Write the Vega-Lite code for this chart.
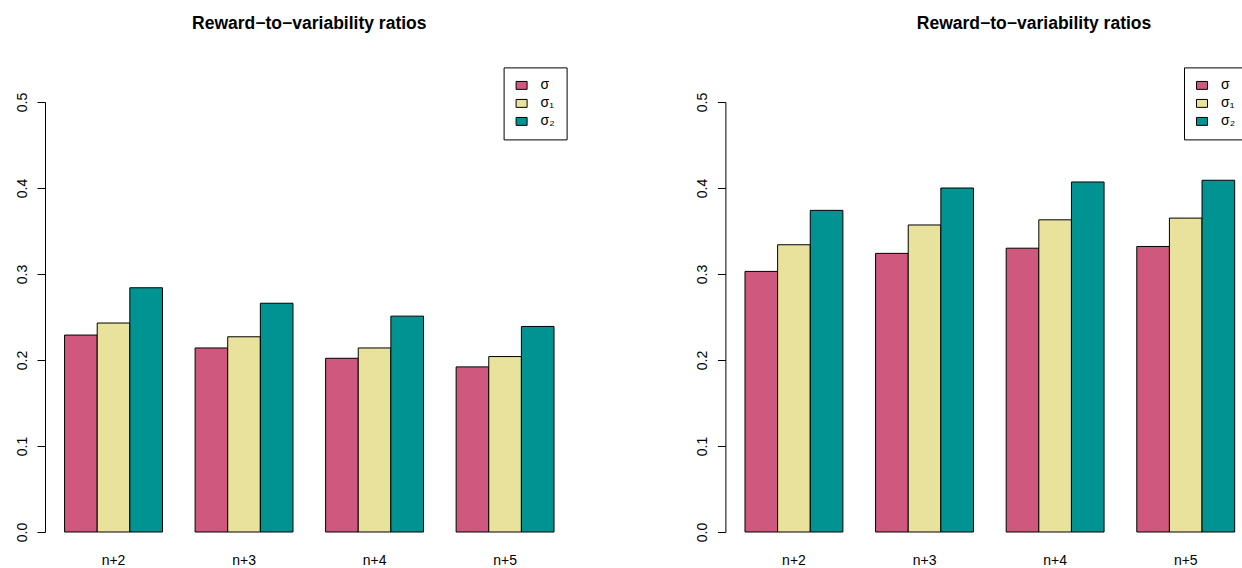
{
  "$schema": "https://vega.github.io/schema/vega-lite/v6.json",
  "background": "white",
  "padding": {"left": 15, "top": 15, "right": 0, "bottom": 0},
  "config": {
    "view": {"stroke": null},
    "font": "Liberation Sans",
    "axis": {"labelFont": "Liberation Sans", "labelColor": "black", "labelFontSize": 14},
    "legend": {"labelFont": "Liberation Sans"}
  },
  "datasets": {
    "d": [
      {"panel": "left", "horizon": "n+2", "measure": "σ", "value": 0.229},
      {"panel": "left", "horizon": "n+2", "measure": "σ₁", "value": 0.243},
      {"panel": "left", "horizon": "n+2", "measure": "σ₂", "value": 0.284},
      {"panel": "left", "horizon": "n+3", "measure": "σ", "value": 0.214},
      {"panel": "left", "horizon": "n+3", "measure": "σ₁", "value": 0.227},
      {"panel": "left", "horizon": "n+3", "measure": "σ₂", "value": 0.266},
      {"panel": "left", "horizon": "n+4", "measure": "σ", "value": 0.202},
      {"panel": "left", "horizon": "n+4", "measure": "σ₁", "value": 0.214},
      {"panel": "left", "horizon": "n+4", "measure": "σ₂", "value": 0.251},
      {"panel": "left", "horizon": "n+5", "measure": "σ", "value": 0.192},
      {"panel": "left", "horizon": "n+5", "measure": "σ₁", "value": 0.204},
      {"panel": "left", "horizon": "n+5", "measure": "σ₂", "value": 0.239},
      {"panel": "right", "horizon": "n+2", "measure": "σ", "value": 0.303},
      {"panel": "right", "horizon": "n+2", "measure": "σ₁", "value": 0.334},
      {"panel": "right", "horizon": "n+2", "measure": "σ₂", "value": 0.374},
      {"panel": "right", "horizon": "n+3", "measure": "σ", "value": 0.324},
      {"panel": "right", "horizon": "n+3", "measure": "σ₁", "value": 0.357},
      {"panel": "right", "horizon": "n+3", "measure": "σ₂", "value": 0.400},
      {"panel": "right", "horizon": "n+4", "measure": "σ", "value": 0.330},
      {"panel": "right", "horizon": "n+4", "measure": "σ₁", "value": 0.363},
      {"panel": "right", "horizon": "n+4", "measure": "σ₂", "value": 0.407},
      {"panel": "right", "horizon": "n+5", "measure": "σ", "value": 0.332},
      {"panel": "right", "horizon": "n+5", "measure": "σ₁", "value": 0.365},
      {"panel": "right", "horizon": "n+5", "measure": "σ₂", "value": 0.409}
    ]
  },
  "bounds": "flush",
  "spacing": 151.4,
  "resolve": {"legend": {"color": "independent"}, "scale": {"x": "independent", "y": "independent"}},
  "hconcat": [
    {
      "width": 528.6,
      "height": 430,
      "title": {"text": "Reward−to−variability ratios", "frame": "group", "anchor": "middle", "font": "Liberation Sans", "fontSize": 17.5, "fontWeight": "bold", "color": "black", "offset": 34},
      "data": {"name": "d"},
      "transform": [{"filter": "datum.panel == 'left'"}],
      "mark": {"type": "bar", "stroke": "black", "strokeWidth": 1},
      "encoding": {
        "x": {"field": "horizon", "type": "nominal", "sort": ["n+2", "n+3", "n+4", "n+5"],
          "scale": {"paddingInner": 0.25, "paddingOuter": 0.15},
          "axis": {"title": null, "domain": false, "ticks": false, "labelAngle": 0, "labelPadding": 21}},
        "xOffset": {"field": "measure", "type": "nominal", "sort": ["σ", "σ₁", "σ₂"], "scale": {"paddingInner": 0, "paddingOuter": 0}},
        "y": {"field": "value", "type": "quantitative", "scale": {"domain": [0, 0.5], "nice": false, "zero": true},
          "axis": {"title": null, "values": [0, 0.1, 0.2, 0.3, 0.4, 0.5], "format": ".1f", "labelAngle": -90, "grid": false, "tickSize": 8, "labelPadding": 8, "domainColor": "black", "tickColor": "black"}},
        "color": {"field": "measure", "type": "nominal",
          "scale": {"domain": ["σ", "σ₁", "σ₂"], "range": ["#CF597E", "#E9E29C", "#009392"]},
          "legend": {"orient": "none", "legendX": 458.6, "legendY": -34.6, "title": null, "strokeColor": "black", "fillColor": "white", "padding": 11, "symbolType": "M-1,-0.72H1V0.72H-1Z", "symbolSize": 121, "symbolStrokeColor": "black", "symbolStrokeWidth": 1, "symbolOpacity": 1, "labelFontSize": 14, "labelColor": "black", "labelOffset": 12, "rowPadding": 4}}
      }
    },
    {
      "width": 517.3,
      "height": 430,
      "title": {"text": "Reward−to−variability ratios", "frame": "group", "anchor": "middle", "dx": 50, "font": "Liberation Sans", "fontSize": 17.5, "fontWeight": "bold", "color": "black", "offset": 34},
      "data": {"name": "d"},
      "transform": [{"filter": "datum.panel == 'right'"}],
      "mark": {"type": "bar", "stroke": "black", "strokeWidth": 1},
      "encoding": {
        "x": {"field": "horizon", "type": "nominal", "sort": ["n+2", "n+3", "n+4", "n+5"],
          "scale": {"paddingInner": 0.25, "paddingOuter": 0.1055, "align": 0.711},
          "axis": {"title": null, "domain": false, "ticks": false, "labelAngle": 0, "labelPadding": 21}},
        "xOffset": {"field": "measure", "type": "nominal", "sort": ["σ", "σ₁", "σ₂"], "scale": {"paddingInner": 0, "paddingOuter": 0}},
        "y": {"field": "value", "type": "quantitative", "scale": {"domain": [0, 0.5], "nice": false, "zero": true},
          "axis": {"title": null, "values": [0, 0.1, 0.2, 0.3, 0.4, 0.5], "format": ".1f", "labelAngle": -90, "grid": false, "tickSize": 8, "labelPadding": 8, "domainColor": "black", "tickColor": "black"}},
        "color": {"field": "measure", "type": "nominal",
          "scale": {"domain": ["σ", "σ₁", "σ₂"], "range": ["#CF597E", "#E9E29C", "#009392"]},
          "legend": {"orient": "none", "legendX": 458.6, "legendY": -34.6, "title": null, "strokeColor": "black", "fillColor": "white", "padding": 11, "symbolType": "M-1,-0.72H1V0.72H-1Z", "symbolSize": 121, "symbolStrokeColor": "black", "symbolStrokeWidth": 1, "symbolOpacity": 1, "labelFontSize": 14, "labelColor": "black", "labelOffset": 12, "rowPadding": 4}}
      }
    }
  ]
}
